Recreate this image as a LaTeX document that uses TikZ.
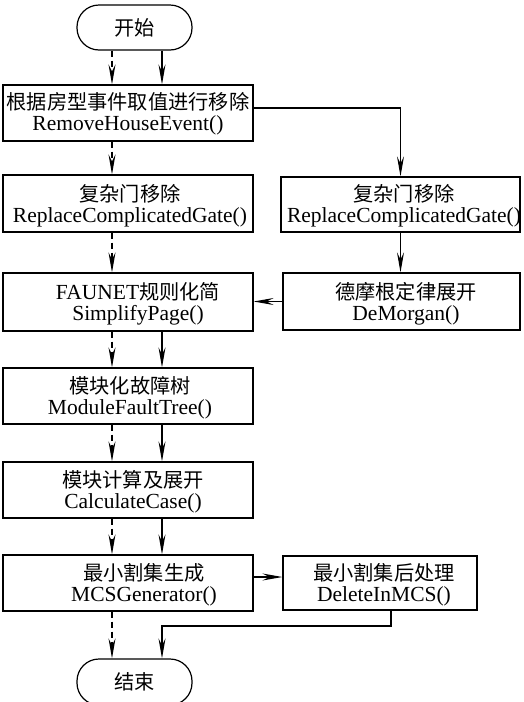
\documentclass[tikz,border=0pt]{standalone}
\usepackage{fontspec}
\setmainfont{Liberation Serif}
\newfontfamily\cjk{Noto Sans CJK SC}[Scale=0.94]
\usetikzlibrary{arrows.meta}
\begin{document}
\begin{tikzpicture}[x=1pt,y=-1pt,
  line width=1.2pt,
  every node/.style={font=\fontsize{21.5}{21}\selectfont},
  boxnode/.style={draw, rectangle, inner sep=0pt},
  lbl/.style={align=center, inner sep=0pt},
  term/.style={draw, rounded corners=22pt, minimum width=115pt, minimum height=45pt, inner sep=0pt},
  arr/.style={-{Stealth[length=20pt,width=7pt,inset=7pt]}},
  darr/.style={arr, dash pattern=on 6pt off 4pt},
]
\useasboundingbox (0,0) rectangle (523,702);

% terminals
\node[term] (st) at (134.5,27.5) {{\cjk 开始}};
\node[term, minimum height=46pt] (en) at (134.5,682) {{\cjk 结束}};

% left column boxes
\node[boxnode, minimum width=250pt, minimum height=56pt] (b1) at (128,113) {};
\node[lbl] (t1) at (128,114) {{\cjk 根据房型事件取值进行移除}\\RemoveHouseEvent()};

\node[boxnode, minimum width=250pt, minimum height=57pt] (b2) at (128,203.5) {};
\node[lbl] (t2) at (130,206) {{\cjk 复杂门移除}\\ReplaceComplicatedGate()};

\node[boxnode, minimum width=250pt, minimum height=58pt] (b3) at (128,302) {};
\node[lbl] (t3) at (138,304) {FAUNET{\cjk 规则化简}\\SimplifyPage()};

\node[boxnode, minimum width=250pt, minimum height=56pt] (b4) at (128,396) {};
\node[lbl] (t4) at (130,398) {{\cjk 模块化故障树}\\ModuleFaultTree()};

\node[boxnode, minimum width=250pt, minimum height=56pt] (b5) at (128,490) {};
\node[lbl] (t5) at (133,492) {{\cjk 模块计算及展开}\\CalculateCase()};

\node[boxnode, minimum width=250pt, minimum height=56pt] (b6) at (128,583) {};
\node[lbl] (t6) at (144,585) {{\cjk 最小割集生成}\\MCSGenerator()};

% right column boxes
\node[boxnode, minimum width=239pt, minimum height=55pt] (r2) at (400.5,204.5) {};
\node[lbl] (u2) at (404,206) {{\cjk 复杂门移除}\\ReplaceComplicatedGate()};

\node[boxnode, minimum width=237pt, minimum height=57pt] (r3) at (401.5,301.5) {};
\node[lbl] (u3) at (406,304) {{\cjk 德摩根定律展开}\\DeMorgan()};

\node[boxnode, minimum width=194pt, minimum height=54pt] (r6) at (380,583) {};
\node[lbl] (u6) at (384,585) {{\cjk 最小割集后处理}\\DeleteInMCS()};

% helper coordinates
\coordinate (dL) at (112,0);
\coordinate (sL) at (162,0);
\coordinate (rx) at (391,0);
\coordinate (ry) at (0,626);

% connectors
\draw[darr] (st.south -| dL) -- (b1.north -| dL);
\draw[arr]  (st.south -| sL) -- (b1.north -| sL);
\draw[darr] (b1.south -| dL) -- (b2.north -| dL);
\draw[arr]  ([yshift=5pt]b1.east) -| (r2.north);
\draw[darr] (b2.south -| dL) -- (b3.north -| dL);
\draw[arr]  (r2.south) -- (r2.south |- r3.north);
\draw[arr]  (r3.west) -- (r3.west -| b3.east);
\draw[darr] (b3.south -| dL) -- (b4.north -| dL);
\draw[arr]  (b3.south -| sL) -- (b4.north -| sL);
\draw[darr] (b4.south -| dL) -- (b5.north -| dL);
\draw[arr]  (b4.south -| sL) -- (b5.north -| sL);
\draw[darr] (b5.south -| dL) -- (b6.north -| dL);
\draw[arr]  (b5.south -| sL) -- (b6.north -| sL);
\draw[arr]  ([yshift=6pt]b6.east) -- ([yshift=6pt]b6.east -| r6.west);
\draw[darr] (b6.south -| dL) -- (en.north -| dL);
\draw[arr]  (r6.south -| rx) |- (ry -| sL) -- (en.north -| sL);
\end{tikzpicture}
\end{document}
